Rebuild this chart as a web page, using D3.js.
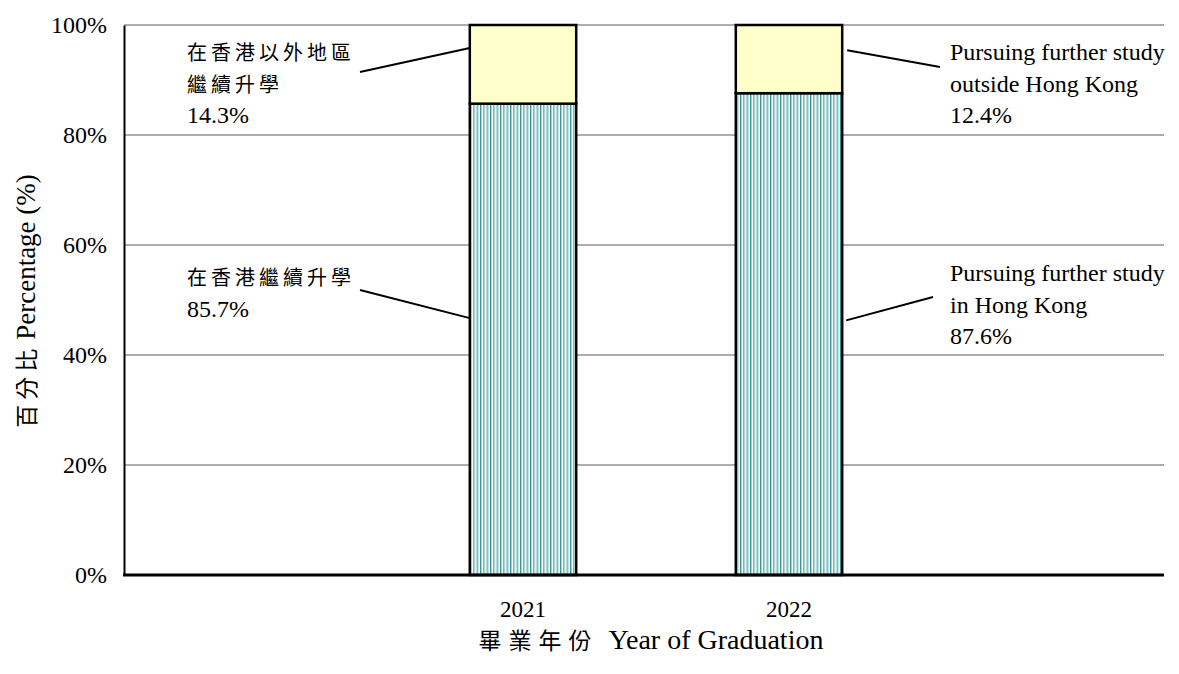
<!DOCTYPE html>
<html>
<head>
<meta charset="utf-8">
<script src="https://cdn.jsdelivr.net/npm/d3@7"></script>
<style>
  html, body { margin: 0; padding: 0; background: #fff; }
  svg { display: block; }
</style>
</head>
<body>
<svg id="chart" width="1179" height="674"></svg>
<script>
// Graduates pursuing further study, by year of graduation
const years = ["2021", "2022"];
const studyInHK = [85.7, 87.6];
const studyOutsideHK = [14.3, 12.4];
const yTicks = [0, 20, 40, 60, 80, 100];

const SERIF = '"Liberation Serif", "Times New Roman", serif';
const CJK = '"Noto Sans CJK TC", "Noto Sans CJK SC", sans-serif';

const svg = d3.select("#chart");
const plot = { left: 124, right: 1164, top: 25, bottom: 575 };

const y = d3.scaleLinear().domain([0, 100]).range([plot.bottom, plot.top]);
const x = d3.scaleBand().domain(years).range([390, 922]).paddingInner(0.6).paddingOuter(0.3);

// vertical stripe fill for the "in Hong Kong" segment
const defs = svg.append("defs");
const pat = defs.append("pattern")
  .attr("id", "stripes").attr("patternUnits", "userSpaceOnUse")
  .attr("width", 10).attr("height", 10);
pat.append("rect").attr("width", 10).attr("height", 10).attr("fill", "#ffffff");
[[0, "#3a9494"], [1, "#9fd6d6"], [3.33, "#3a9494"], [4.33, "#9fd6d6"], [6.67, "#3a9494"], [7.67, "#9fd6d6"]]
  .forEach(([px, c]) => pat.append("rect").attr("x", px).attr("width", 1).attr("height", 10).attr("fill", c));

// gridlines
svg.append("g").selectAll("line").data(yTicks.filter(t => t > 0)).join("line")
  .attr("x1", plot.left).attr("x2", plot.right)
  .attr("y1", d => y(d)).attr("y2", d => y(d))
  .attr("stroke", "#5a5a5a").attr("stroke-width", 1);

// y axis
const yAxis = d3.axisLeft(y).tickValues(yTicks).tickFormat(d => d + "%").tickSize(0).tickPadding(17);
const gy = svg.append("g").attr("transform", `translate(${plot.left},0)`).call(yAxis);
gy.attr("font-family", null).attr("font-size", null);
gy.select(".domain").attr("stroke", "#000").attr("stroke-width", 2);
gy.selectAll("text").style("font-family", SERIF).style("font-size", "24px").attr("fill", "#000");

// stacked bars
const barG = svg.append("g");
years.forEach((yr, i) => {
  const x0 = x(yr), bw = x.bandwidth();
  barG.append("rect")
    .attr("x", x0).attr("width", bw)
    .attr("y", y(studyInHK[i])).attr("height", y(0) - y(studyInHK[i]))
    .attr("fill", "url(#stripes)").attr("stroke", "#000").attr("stroke-width", 2.5);
  barG.append("rect")
    .attr("x", x0).attr("width", bw)
    .attr("y", y(studyInHK[i] + studyOutsideHK[i])).attr("height", y(studyInHK[i]) - y(studyInHK[i] + studyOutsideHK[i]))
    .attr("fill", "#ffffcc").attr("stroke", "#000").attr("stroke-width", 2.5);
});

// x axis
const xAxis = d3.axisBottom(x).tickSize(0).tickPadding(26);
const gx = svg.append("g").attr("transform", `translate(0,${plot.bottom})`).call(xAxis);
gx.attr("font-family", null).attr("font-size", null);
gx.select(".domain").remove();
gx.selectAll("text").style("font-family", SERIF).style("font-size", "23px").attr("fill", "#000");
svg.append("line").attr("x1", plot.left - 1).attr("x2", plot.right)
  .attr("y1", plot.bottom).attr("y2", plot.bottom).attr("stroke", "#000").attr("stroke-width", 3);

// data labels with leader lines
const lineH = 31.5;
function label(lines, tx, ty, lx, ly, bx, by) {
  const t = svg.append("text").attr("x", tx).attr("y", ty).attr("fill", "#000");
  lines.forEach((ln, k) => {
    t.append("tspan").attr("x", tx).attr("y", ty + k * lineH)
      .style("font-family", ln.cjk ? CJK : SERIF)
      .style("font-size", ln.cjk ? "20px" : "24px")
      .style("font-weight", 400)
      .attr("letter-spacing", ln.cjk ? 4 : 0)
      .text(ln.t);
  });
  svg.append("line").attr("x1", lx).attr("y1", ly).attr("x2", bx).attr("y2", by)
    .attr("stroke", "#000").attr("stroke-width", 2);
}
const fmt = v => v.toFixed(1) + "%";
const L0 = x(years[0]), R1 = x(years[1]) + x.bandwidth();

label([{ t: "在香港以外地區", cjk: true }, { t: "繼續升學", cjk: true }, { t: fmt(studyOutsideHK[0]) }],
  187, 60, 360, 72, L0, y(95.8));
label([{ t: "Pursuing further study" }, { t: "outside Hong Kong" }, { t: fmt(studyOutsideHK[1]) }],
  950, 60, 940, 67, R1 + 5, y(95.4));
label([{ t: "在香港繼續升學", cjk: true }, { t: fmt(studyInHK[0]) }],
  187, 285, 360, 290, L0, y(46.7));
label([{ t: "Pursuing further study" }, { t: "in Hong Kong" }, { t: fmt(studyInHK[1]) }],
  950, 281, 933, 297, R1 + 4, y(46.3));

// axis titles
const yt = svg.append("text").attr("transform", `translate(35,301) rotate(-90)`)
  .attr("text-anchor", "middle").attr("fill", "#000");
yt.append("tspan").style("font-family", CJK).style("font-size", "23px").style("font-weight", 400)
  .attr("letter-spacing", 5).text("百分比");
yt.append("tspan").style("font-family", SERIF).style("font-size", "27px").attr("dx", 4).text("Percentage (%)");

const xt = svg.append("text").attr("x", 651).attr("y", 649).attr("text-anchor", "middle").attr("fill", "#000");
xt.append("tspan").style("font-family", CJK).style("font-size", "23px").style("font-weight", 400)
  .attr("letter-spacing", 7).text("畢業年份");
xt.append("tspan").style("font-family", SERIF).style("font-size", "28px").attr("dx", 10).text("Year of Graduation");
</script>
</body>
</html>
